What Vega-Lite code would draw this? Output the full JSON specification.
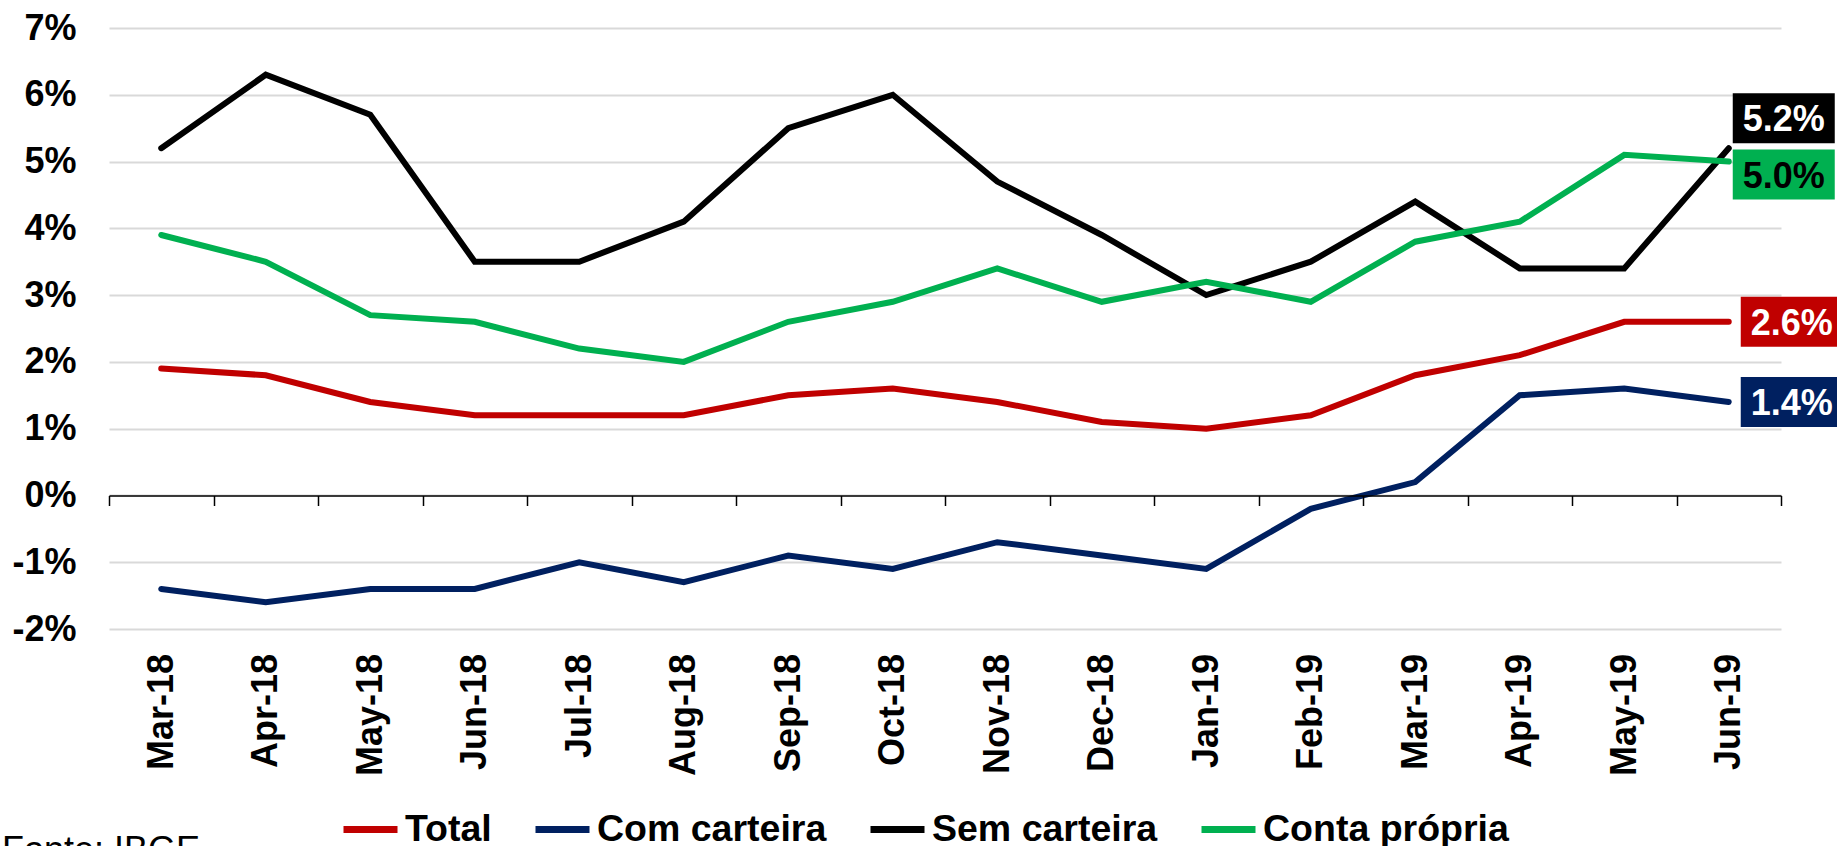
{
  "$schema": "https://vega.github.io/schema/vega-lite/v6.json",
  "width": 1672,
  "height": 601,
  "autosize": {"type": "none"},
  "padding": {"left": 109, "top": 28, "right": 56, "bottom": 217},
  "background": "white",
  "config": {"view": {"stroke": null}, "font": "Liberation Sans"},
  "title": {"text": "Fonte: IBGE", "orient": "bottom", "anchor": "start", "frame": "group", "fontSize": 36, "fontWeight": "normal", "font": "Liberation Sans", "color": "black", "dx": -107, "offset": -14, "baseline": "top"},
  "data": {"values": [
    {"month": "Mar-18", "series": "Total", "value": 0.019},
    {"month": "Apr-18", "series": "Total", "value": 0.018},
    {"month": "May-18", "series": "Total", "value": 0.014},
    {"month": "Jun-18", "series": "Total", "value": 0.012},
    {"month": "Jul-18", "series": "Total", "value": 0.012},
    {"month": "Aug-18", "series": "Total", "value": 0.012},
    {"month": "Sep-18", "series": "Total", "value": 0.015},
    {"month": "Oct-18", "series": "Total", "value": 0.016},
    {"month": "Nov-18", "series": "Total", "value": 0.014},
    {"month": "Dec-18", "series": "Total", "value": 0.011},
    {"month": "Jan-19", "series": "Total", "value": 0.010},
    {"month": "Feb-19", "series": "Total", "value": 0.012},
    {"month": "Mar-19", "series": "Total", "value": 0.018},
    {"month": "Apr-19", "series": "Total", "value": 0.021},
    {"month": "May-19", "series": "Total", "value": 0.026},
    {"month": "Jun-19", "series": "Total", "value": 0.026},
    {"month": "Mar-18", "series": "Com carteira", "value": -0.014},
    {"month": "Apr-18", "series": "Com carteira", "value": -0.016},
    {"month": "May-18", "series": "Com carteira", "value": -0.014},
    {"month": "Jun-18", "series": "Com carteira", "value": -0.014},
    {"month": "Jul-18", "series": "Com carteira", "value": -0.010},
    {"month": "Aug-18", "series": "Com carteira", "value": -0.013},
    {"month": "Sep-18", "series": "Com carteira", "value": -0.009},
    {"month": "Oct-18", "series": "Com carteira", "value": -0.011},
    {"month": "Nov-18", "series": "Com carteira", "value": -0.007},
    {"month": "Dec-18", "series": "Com carteira", "value": -0.009},
    {"month": "Jan-19", "series": "Com carteira", "value": -0.011},
    {"month": "Feb-19", "series": "Com carteira", "value": -0.002},
    {"month": "Mar-19", "series": "Com carteira", "value": 0.002},
    {"month": "Apr-19", "series": "Com carteira", "value": 0.015},
    {"month": "May-19", "series": "Com carteira", "value": 0.016},
    {"month": "Jun-19", "series": "Com carteira", "value": 0.014},
    {"month": "Mar-18", "series": "Sem carteira", "value": 0.052},
    {"month": "Apr-18", "series": "Sem carteira", "value": 0.063},
    {"month": "May-18", "series": "Sem carteira", "value": 0.057},
    {"month": "Jun-18", "series": "Sem carteira", "value": 0.035},
    {"month": "Jul-18", "series": "Sem carteira", "value": 0.035},
    {"month": "Aug-18", "series": "Sem carteira", "value": 0.041},
    {"month": "Sep-18", "series": "Sem carteira", "value": 0.055},
    {"month": "Oct-18", "series": "Sem carteira", "value": 0.060},
    {"month": "Nov-18", "series": "Sem carteira", "value": 0.047},
    {"month": "Dec-18", "series": "Sem carteira", "value": 0.039},
    {"month": "Jan-19", "series": "Sem carteira", "value": 0.030},
    {"month": "Feb-19", "series": "Sem carteira", "value": 0.035},
    {"month": "Mar-19", "series": "Sem carteira", "value": 0.044},
    {"month": "Apr-19", "series": "Sem carteira", "value": 0.034},
    {"month": "May-19", "series": "Sem carteira", "value": 0.034},
    {"month": "Jun-19", "series": "Sem carteira", "value": 0.052},
    {"month": "Mar-18", "series": "Conta própria", "value": 0.039},
    {"month": "Apr-18", "series": "Conta própria", "value": 0.035},
    {"month": "May-18", "series": "Conta própria", "value": 0.027},
    {"month": "Jun-18", "series": "Conta própria", "value": 0.026},
    {"month": "Jul-18", "series": "Conta própria", "value": 0.022},
    {"month": "Aug-18", "series": "Conta própria", "value": 0.020},
    {"month": "Sep-18", "series": "Conta própria", "value": 0.026},
    {"month": "Oct-18", "series": "Conta própria", "value": 0.029},
    {"month": "Nov-18", "series": "Conta própria", "value": 0.034},
    {"month": "Dec-18", "series": "Conta própria", "value": 0.029},
    {"month": "Jan-19", "series": "Conta própria", "value": 0.032},
    {"month": "Feb-19", "series": "Conta própria", "value": 0.029},
    {"month": "Mar-19", "series": "Conta própria", "value": 0.038},
    {"month": "Apr-19", "series": "Conta própria", "value": 0.041},
    {"month": "May-19", "series": "Conta própria", "value": 0.051},
    {"month": "Jun-19", "series": "Conta própria", "value": 0.050}
  ]},
  "encoding": {
    "x": {
      "field": "month", "type": "ordinal",
      "sort": ["Mar-18","Apr-18","May-18","Jun-18","Jul-18","Aug-18","Sep-18","Oct-18","Nov-18","Dec-18","Jan-19","Feb-19","Mar-19","Apr-19","May-19","Jun-19"],
      "scale": {"type": "band", "paddingInner": 0, "paddingOuter": 0},
      "axis": {
        "title": null, "orient": "bottom", "offset": -133.5,
        "domain": true, "domainColor": "black", "domainWidth": 1.5,
        "ticks": true, "tickColor": "black", "tickWidth": 1.5, "tickSize": 10, "tickBand": "extent",
        "labelAngle": -90, "labelAlign": "right", "labelBaseline": "middle", "labelPadding": 148,
        "labelFont": "Liberation Sans", "labelFontSize": 36, "labelFontWeight": "bold", "labelColor": "black",
        "grid": false, "zindex": 1
      }
    },
    "y": {
      "field": "value", "type": "quantitative",
      "scale": {"domain": [-0.02, 0.07], "nice": false, "zero": false},
      "axis": {
        "title": null, "values": [-0.02,-0.01,0,0.01,0.02,0.03,0.04,0.05,0.06,0.07],
        "format": ".0%", "labelExpr": "replace(datum.label, '\u2212', '-')",
        "domain": false, "ticks": false, "labelPadding": 33,
        "labelFont": "Liberation Sans", "labelFontSize": 36, "labelFontWeight": "bold", "labelColor": "black",
        "grid": true, "gridColor": "#d9d9d9", "gridWidth": 2, "zindex": 0
      }
    }
  },
  "layer": [
    {
      "mark": {"type": "line", "strokeWidth": 6, "strokeCap": "round", "strokeJoin": "miter"},
      "encoding": {
        "color": {
          "field": "series", "type": "nominal",
          "scale": {"domain": ["Total","Com carteira","Sem carteira","Conta própria"], "range": ["#C00000","#002060","#000000","#00B050"]},
          "legend": {
            "orient": "none", "legendX": 231, "legendY": 771, "direction": "horizontal", "title": null,
            "symbolType": "stroke", "symbolSize": 2916, "symbolStrokeWidth": 7,
            "labelFont": "Liberation Sans", "labelFontSize": 37.5, "labelFontWeight": "bold", "labelColor": "black",
            "labelOffset": 4, "labelLimit": 400, "columnPadding": 29, "padding": 0
          }
        }
      }
    },
    {
      "transform": [{"filter": "datum.month === 'Jun-19' && datum.series === 'Sem carteira'"}],
      "mark": {"type": "tick", "orient": "horizontal", "size": 102, "thickness": 50, "xOffset": 55, "yOffset": -30, "opacity": 1},
      "encoding": {"color": {"value": "#000000"}}
    },
    {
      "transform": [{"filter": "datum.month === 'Jun-19' && datum.series === 'Sem carteira'"}],
      "mark": {"type": "text", "fontSize": 36, "fontWeight": "bold", "font": "Liberation Sans", "align": "center", "baseline": "middle", "xOffset": 55, "yOffset": -28},
      "encoding": {"text": {"field": "value", "format": ".1%"}, "color": {"value": "white"}}
    },
    {
      "transform": [{"filter": "datum.month === 'Jun-19' && datum.series === 'Conta própria'"}],
      "mark": {"type": "tick", "orient": "horizontal", "size": 102, "thickness": 50, "xOffset": 55, "yOffset": 13, "opacity": 1},
      "encoding": {"color": {"value": "#00B050"}}
    },
    {
      "transform": [{"filter": "datum.month === 'Jun-19' && datum.series === 'Conta própria'"}],
      "mark": {"type": "text", "fontSize": 36, "fontWeight": "bold", "font": "Liberation Sans", "align": "center", "baseline": "middle", "xOffset": 55, "yOffset": 15},
      "encoding": {"text": {"field": "value", "format": ".1%"}, "color": {"value": "black"}}
    },
    {
      "transform": [{"filter": "datum.month === 'Jun-19' && (datum.series === 'Total' || datum.series === 'Com carteira')"}],
      "mark": {"type": "tick", "orient": "horizontal", "size": 102, "thickness": 50, "xOffset": 63, "opacity": 1},
      "encoding": {"color": {"field": "series", "type": "nominal", "legend": null}}
    },
    {
      "transform": [{"filter": "datum.month === 'Jun-19' && (datum.series === 'Total' || datum.series === 'Com carteira')"}],
      "mark": {"type": "text", "fontSize": 36, "fontWeight": "bold", "font": "Liberation Sans", "align": "center", "baseline": "middle", "xOffset": 63, "yOffset": 2},
      "encoding": {"text": {"field": "value", "format": ".1%"}, "color": {"value": "white"}}
    }
  ]
}
